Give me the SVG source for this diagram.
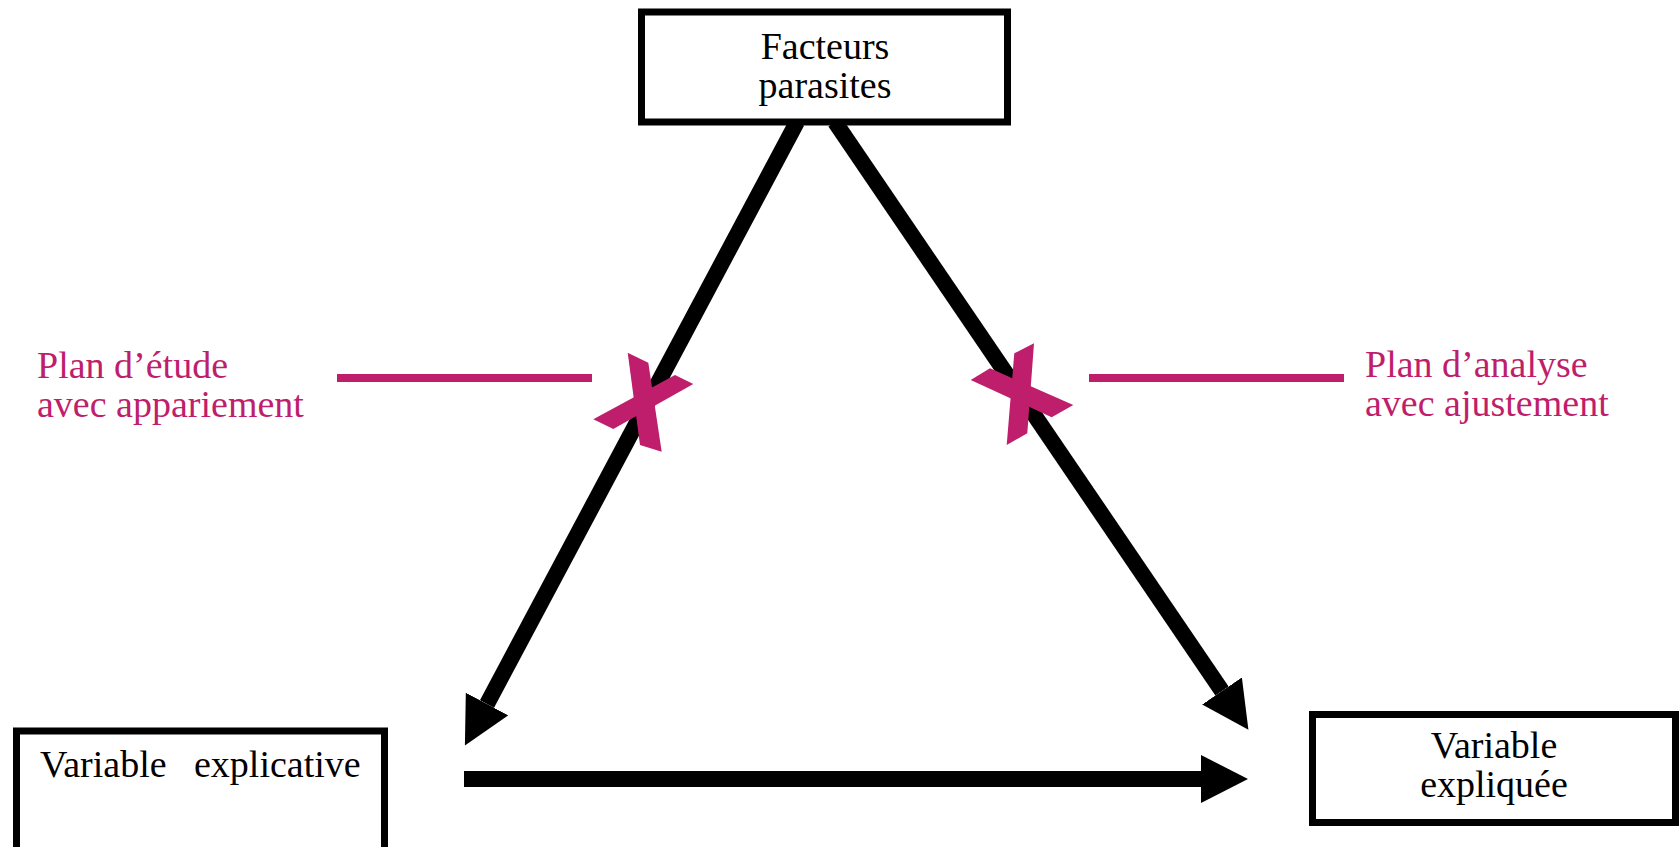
<svg xmlns="http://www.w3.org/2000/svg" width="1680" height="847" viewBox="0 0 1680 847">
<style>
.box{fill:#fff;stroke:#000;stroke-width:7}
.lbl{font-family:"Liberation Serif","Times New Roman",serif;font-size:38px;fill:#000}
.pink{font-family:"Liberation Serif","Times New Roman",serif;font-size:38px;fill:#BF1E6C}
.conn{stroke:#000;stroke-width:16;fill:none;marker-end:url(#ah)}
.mark{fill:#BF1E6C}
.pline{stroke:#BF1E6C;stroke-width:8}
</style>
<defs>
<marker id="ah" markerUnits="userSpaceOnUse" viewBox="0 0 47 48" markerWidth="47" markerHeight="48" refX="0" refY="24" orient="auto">
<path d="M0,0 L47,24 L0,48 Z" fill="#000"/>
</marker>
</defs>
<rect width="1680" height="847" fill="#fff"/>
<g id="connectors">
<line class="conn" x1="797" y1="122" x2="487" y2="704"/>
<line class="conn" x1="835" y1="122" x2="1222" y2="691"/>
<line class="conn" x1="464" y1="779" x2="1201" y2="779"/>
</g>
<g id="facteurs">
<rect class="box" x="641.5" y="12" width="366" height="110"/>
<text class="lbl" text-anchor="middle"><tspan x="825" y="59">Facteurs</tspan><tspan x="825" y="98">parasites</tspan></text>
</g>
<g id="explicative">
<rect class="box" x="16.5" y="731" width="368" height="130"/>
<text class="lbl"><tspan x="40" y="777">Variable</tspan><tspan x="194" y="777">explicative</tspan></text>
</g>
<g id="expliquee">
<rect class="box" x="1312.5" y="714.5" width="363" height="108"/>
<text class="lbl" text-anchor="middle"><tspan x="1494" y="758">Variable</tspan><tspan x="1494" y="797">expliquée</tspan></text>
</g>
<g id="plan-etude">
<text class="pink"><tspan x="37" y="378">Plan d’étude</tspan><tspan x="37" y="417">avec appariement</tspan></text>
<line class="pline" x1="337" y1="378" x2="592" y2="378"/>
<polygon class="mark" points="627.7,352.7 648.3,362.7 661.7,451.7 640,445"/>
<polygon class="mark" points="593.3,419.3 675,375 693.3,384 613.3,429"/>
</g>
<g id="plan-analyse">
<text class="pink"><tspan x="1365" y="377">Plan d’analyse</tspan><tspan x="1365" y="416">avec ajustement</tspan></text>
<line class="pline" x1="1089" y1="378" x2="1344" y2="378"/>
<polygon class="mark" points="1014.3,353.3 1034,343.3 1027.3,433.3 1006.7,445"/>
<polygon class="mark" points="970.7,380 990,368.3 1073.3,405 1051.7,417.3"/>
</g>
</svg>
